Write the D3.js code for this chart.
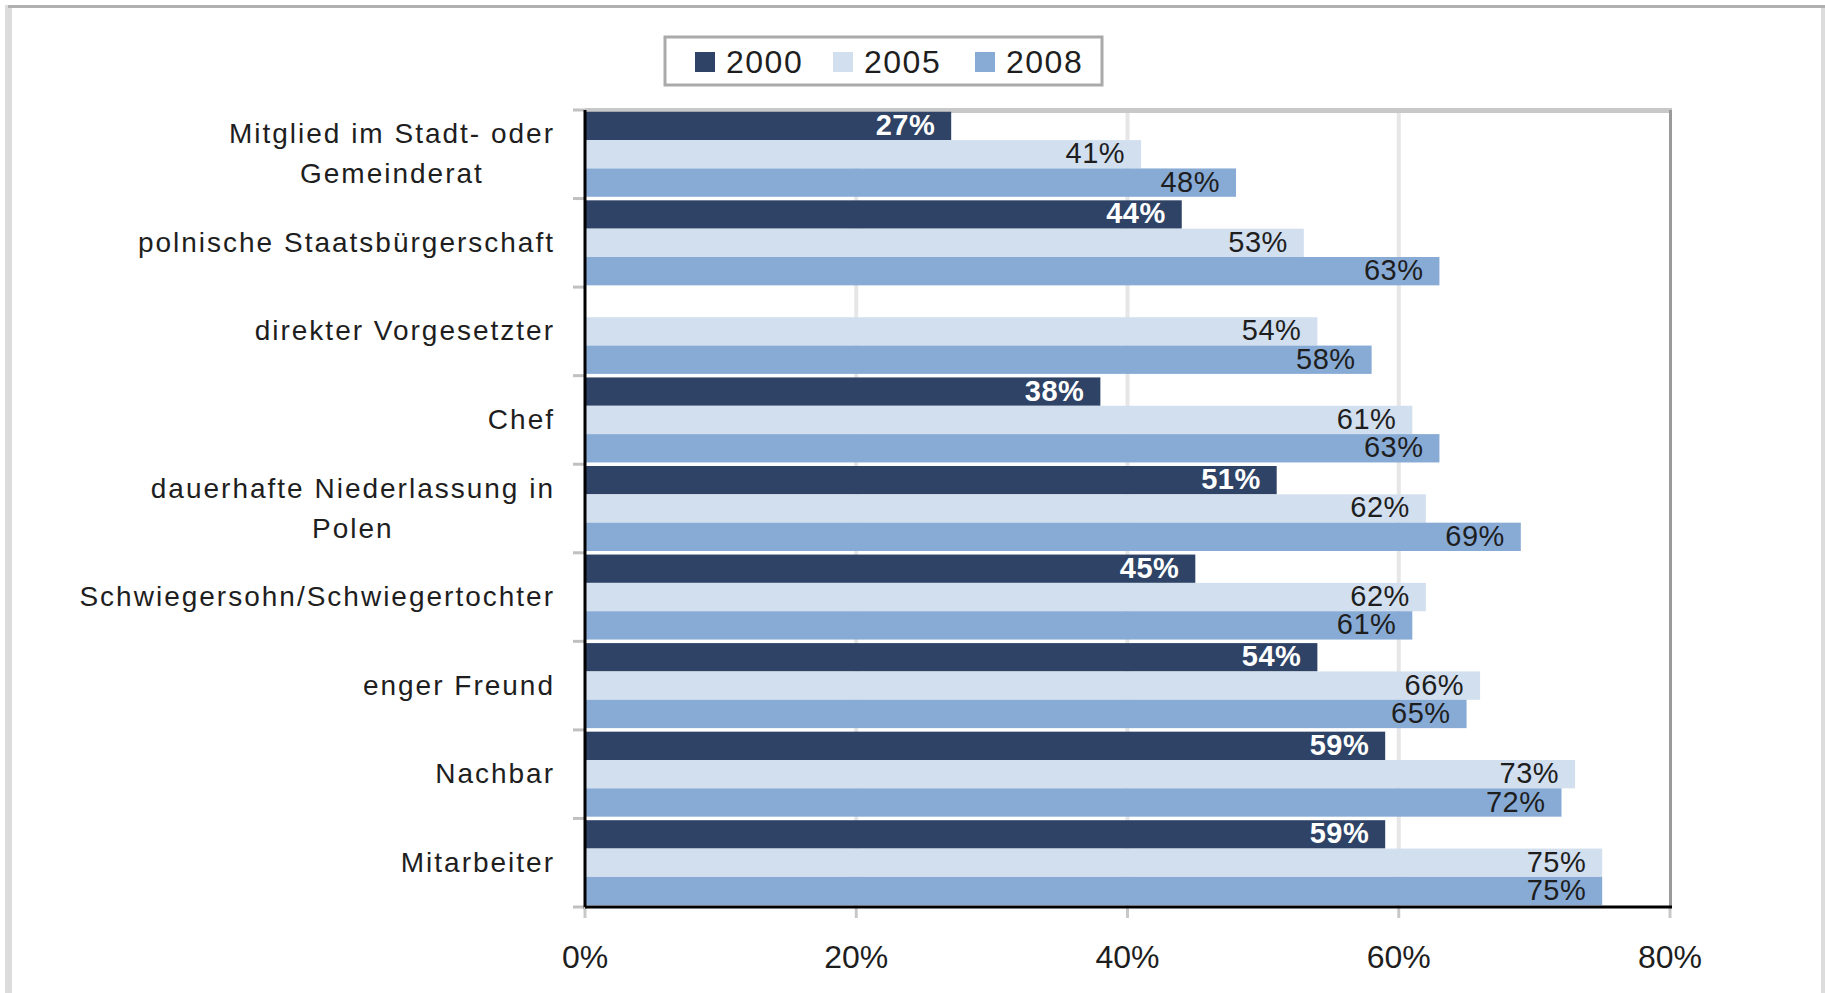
<!DOCTYPE html>
<html>
<head>
<meta charset="utf-8">
<script src="https://cdn.jsdelivr.net/npm/d3@7"></script>
<style>
html,body{margin:0;padding:0;background:#fff;}
svg{display:block;}
text{font-family:"Liberation Sans",Arial,sans-serif;}
</style>
</head>
<body>
<svg id="chart" width="1825" height="993"></svg>
<script>
const categories = [
  "Mitglied im Stadt- oder|Gemeinderat",
  "polnische Staatsbürgerschaft",
  "direkter Vorgesetzter",
  "Chef",
  "dauerhafte Niederlassung in|Polen",
  "Schwiegersohn/Schwiegertochter",
  "enger Freund",
  "Nachbar",
  "Mitarbeiter"
];
const seriesNames = ["2000", "2005", "2008"];
const values2000 = [27, 44, null, 38, 51, 45, 54, 59, 59];
const values2005 = [41, 53, 54, 61, 62, 62, 66, 73, 75];
const values2008 = [48, 63, 58, 63, 69, 61, 65, 72, 75];
const tickValues = [0, 20, 40, 60, 80];
const colors = ["#2e4366", "#d2dfee", "#88abd6"];

(function () {
const seriesValues = [values2000, values2005, values2008];
const svg = d3.select("#chart");

// page frame
svg.append("rect").attr("x",5).attr("y",5).attr("width",7).attr("height",988).attr("fill","#dcdcdc");
svg.append("rect").attr("x",8).attr("y",5).attr("width",1817).attr("height",3).attr("fill","#b0b0b0");
svg.append("rect").attr("x",1821).attr("y",8).attr("width",4).attr("height",985).attr("fill","#dcdcdc");

const pLeft = 585, pRight = 1670, pTop = 110, pBottom = 907;
const x = d3.scaleLinear().domain([0, 80]).range([pLeft, pRight]);
const y = d3.scaleBand().domain(categories).range([pTop, pBottom]).paddingInner(0.04).paddingOuter(0.02);
const ySub = d3.scaleBand().domain(seriesNames).range([0, y.bandwidth()]);

// gridlines
svg.append("g").selectAll("line").data(tickValues.filter(t => t > 0 && t < 80)).join("line")
  .attr("x1", d => x(d)).attr("x2", d => x(d)).attr("y1", pTop).attr("y2", pBottom)
  .attr("stroke", "#e6e6e6").attr("stroke-width", 4);

// plot top and right border
svg.append("rect").attr("x", pLeft).attr("y", 108).attr("width", pRight - pLeft + 2).attr("height", 5).attr("fill", "#c8c8c8");
svg.append("rect").attr("x", pRight - 1).attr("y", 110).attr("width", 3).attr("height", pBottom - 110).attr("fill", "#9a9a9a");

// bars
const groups = svg.append("g").selectAll("g").data(categories).join("g")
  .attr("transform", c => `translate(0,${y(c)})`);
seriesNames.forEach((s, si) => {
  groups.filter((c, i) => seriesValues[si][i] != null)
    .append("rect")
    .attr("x", x(0))
    .attr("y", ySub(s))
    .attr("width", c => x(seriesValues[si][categories.indexOf(c)]) - x(0))
    .attr("height", ySub.bandwidth())
    .attr("fill", colors[si]);
});
// value labels
seriesNames.forEach((s, si) => {
  groups.filter((c, i) => seriesValues[si][i] != null)
    .append("text")
    .attr("x", c => x(seriesValues[si][categories.indexOf(c)]) - 16)
    .attr("y", ySub(s) + ySub.bandwidth() / 2 + 9)
    .attr("text-anchor", "end")
    .attr("font-size", 29)
    .attr("letter-spacing", 0.5)
    .attr("font-weight", si === 0 ? "bold" : "normal")
    .attr("fill", si === 0 ? "#ffffff" : "#1e1e1e")
    .text(c => seriesValues[si][categories.indexOf(c)] + "%");
});

// left axis
const boundaries = d3.range(categories.length + 1).map(i =>
  i === 0 ? pTop : (i === categories.length ? pBottom : y(categories[i]) - y.step() * y.paddingInner() / 2));
svg.append("g").selectAll("line").data(boundaries).join("line")
  .attr("x1", 573).attr("x2", pLeft)
  .attr("y1", d => d).attr("y2", d => d)
  .attr("stroke", "#c0c0c0").attr("stroke-width", 3);
svg.append("line").attr("x1", pLeft).attr("x2", pLeft).attr("y1", pTop).attr("y2", pBottom + 2)
  .attr("stroke", "#000").attr("stroke-width", 3);

// category labels
const labelRight = 555;
categories.forEach(c => {
  const lines = c.split("|");
  const cy = y(c) + y.bandwidth() / 2;
  const t = svg.append("text").attr("font-size", 28).attr("letter-spacing", 2)
    .attr("fill", "#1e1e1e").attr("text-anchor", "middle");
  const tspans = lines.map((l, li) => t.append("tspan").text(l)
      .attr("y", cy + (li - (lines.length - 1) / 2) * 40 + 9));
  const maxW = d3.max(tspans, ts => ts.node().getComputedTextLength());
  tspans.forEach(ts => ts.attr("x", labelRight - maxW / 2));
});

// bottom axis
svg.append("g").selectAll("line").data(tickValues).join("line")
  .attr("x1", d => x(d)).attr("x2", d => x(d)).attr("y1", pBottom).attr("y2", 918)
  .attr("stroke", "#c8c8c8").attr("stroke-width", 3);
svg.append("line").attr("x1", pLeft).attr("x2", pRight + 2).attr("y1", pBottom).attr("y2", pBottom)
  .attr("stroke", "#000").attr("stroke-width", 3);
svg.append("g").selectAll("text").data(tickValues).join("text")
  .attr("x", d => x(d)).attr("y", 968)
  .attr("text-anchor", "middle").attr("font-size", 32).attr("fill", "#1e1e1e")
  .text(d => d + "%");

// legend
svg.append("rect").attr("x", 665).attr("y", 37).attr("width", 437).attr("height", 48)
  .attr("fill", "#fff").attr("stroke", "#aaaaaa").attr("stroke-width", 3);
const legendX = [695, 833, 975];
const lg = svg.append("g").selectAll("g").data(seriesNames).join("g")
  .attr("transform", (d, i) => `translate(${legendX[i]},52)`);
lg.append("rect").attr("width", 20).attr("height", 20).attr("fill", (d, i) => colors[i]);
lg.append("text").attr("x", 31).attr("y", 21).attr("font-size", 32).attr("letter-spacing", 1.5)
  .attr("fill", "#1e1e1e").text(d => d);
})();
</script>
</body>
</html>
